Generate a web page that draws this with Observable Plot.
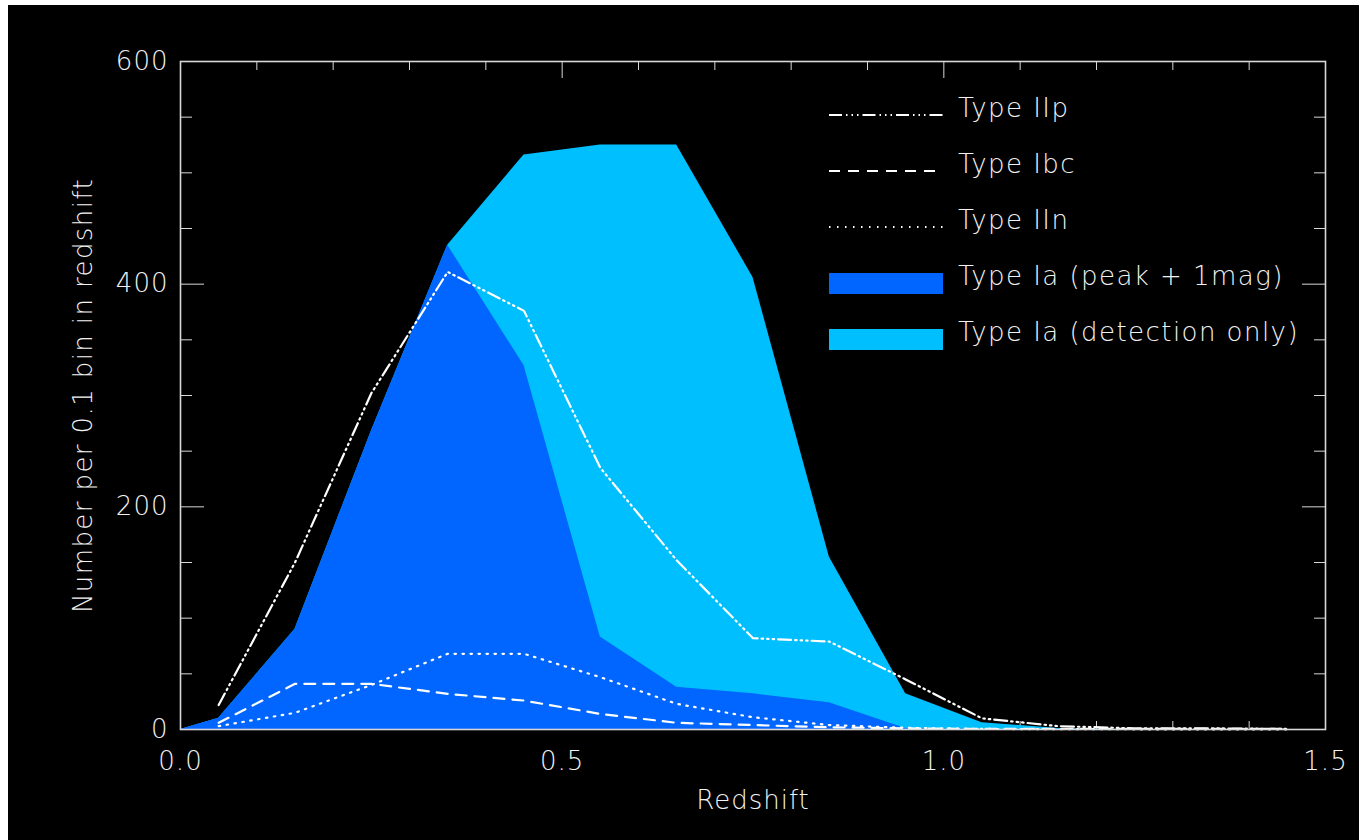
<!DOCTYPE html>
<html><head><meta charset="utf-8">
<script src="https://cdn.jsdelivr.net/npm/d3@7"></script>
<script src="https://cdn.jsdelivr.net/npm/@observablehq/plot@0.6"></script>
<style>
html,body{margin:0;padding:0;background:#fff;width:1359px;height:840px;overflow:hidden;}
#wrap{position:absolute;left:8px;top:5px;width:1351px;height:835px;background:#000;}
#legend{position:absolute;left:0;top:0;}
</style></head><body>
<div id="wrap"></div>
<script>
// Bin centres (redshift, 0.1-wide bins)
const redshift = [0.05,0.15,0.25,0.35,0.45,0.55,0.65,0.75,0.85,0.95,1.05,1.15,1.25,1.35,1.45];
// Type Ia (detection only)
const typeIaDetection = [10,90,268,435,516,525,525,406,155,32,6,1,0,0,0];
// Type Ia (peak + 1mag)
const typeIaPeak = [10,90,268,435,327,83,38,32,24,1,0,0,0,0,0];
// Type IIp
const typeIIp = [22,150,302,411,376,235,152,82,79,45,10,3,1,1,0.5];
// Type Ibc
const typeIbc = [6,41,41,32,26,14,6,4,2,1,0.5,0.5,0.5,0.5,0.5];
// Type IIn
const typeIIn = [3,15,40,68,68,47,23,11,4,1.5,0.5,0.3,0.2,0.2,0.2];
// Axis ranges and ticks
const xDomain = [0, 1.5];
const yDomain = [0, 600];
const xTickLabels = [0, 0.5, 1.0, 1.5];
const xMinorTicks = [0.1,0.2,0.3,0.4,0.6,0.7,0.8,0.9,1.1,1.2,1.3,1.4];
const yTickLabels = [0, 200, 400, 600];
const yMinorTicks = [50,100,150,250,300,350,450,500,550];
const xTitle = "Redshift";
const yTitle = "Number per 0.1 bin in redshift";
const legendNames = ["Type IIp","Type Ibc","Type IIn","Type Ia (peak + 1mag)","Type Ia (detection only)"];

const FG = "#d8d8d8";
const TXT = "#f2f2f2";
const DARK = "#0066ff", LIGHT = "#00bfff";
const DASH_IIP = "13,4,1.5,4,1.5,4,1.5,4";
const DASH_IBC = "11,8";
const DASH_IIN = "1.5,6.5";
const FONT = "'DejaVu Sans', sans-serif";

const rows = arr => redshift.map((z,i) => ({z, v: arr[i]}));
const areaRows = arr => [{z: xDomain[0], v: 0}, ...rows(arr), {z: xDomain[1], v: 0}];

const plot = Plot.plot({
  width: 1351, height: 835,
  marginLeft: 172, marginRight: 34, marginTop: 56, marginBottom: 111,
  x: {domain: xDomain},
  y: {domain: yDomain},
  style: {background: "black", color: FG, fontFamily: FONT, fontSize: "26px", fontWeight: "300", letterSpacing: "1px"},
  marks: [
    // bottom ticks (drawn under the fills)
    Plot.axisX({anchor: "bottom", ticks: xMinorTicks, tickSize: 8, dy: -8, stroke: FG, fill: "none", label: null}),
    Plot.axisX({anchor: "bottom", ticks: xTickLabels, tickSize: 16, dy: -16, stroke: FG, fill: "none", label: null}),
    Plot.areaY(areaRows(typeIaDetection), {x: "z", y: "v", fill: LIGHT}),
    Plot.areaY(areaRows(typeIaPeak), {x: "z", y: "v", fill: DARK}),
    Plot.line(rows(typeIIn), {x: "z", y: "v", stroke: "white", strokeWidth: 2.2, strokeDasharray: DASH_IIN}),
    Plot.line(rows(typeIbc), {x: "z", y: "v", stroke: "white", strokeWidth: 2.2, strokeDasharray: DASH_IBC}),
    Plot.line(rows(typeIIp), {x: "z", y: "v", stroke: "white", strokeWidth: 2.2, strokeDasharray: DASH_IIP}),
    // top ticks
    Plot.axisX({anchor: "top", ticks: xMinorTicks, tickSize: 8, dy: 8, stroke: FG, fill: "none", label: null}),
    Plot.axisX({anchor: "top", ticks: xTickLabels, tickSize: 16, dy: 16, stroke: FG, fill: "none", label: null}),
    // left/right ticks
    Plot.axisY({anchor: "left", ticks: yMinorTicks, tickSize: 12, dx: 12, stroke: FG, fill: "none", label: null}),
    Plot.axisY({anchor: "left", ticks: yTickLabels, tickSize: 24, dx: 24, stroke: FG, fill: "none", label: null}),
    Plot.axisY({anchor: "right", ticks: yMinorTicks, tickSize: 12, dx: -12, stroke: FG, fill: "none", label: null}),
    Plot.axisY({anchor: "right", ticks: yTickLabels, tickSize: 24, dx: -24, stroke: FG, fill: "none", label: null}),
    // tick labels
    Plot.axisX({anchor: "bottom", ticks: xTickLabels, tickSize: 0, tickPadding: 22, tickFormat: d3.format(".1f"), fill: TXT, label: null}),
    Plot.axisY({anchor: "left", ticks: yTickLabels, tickSize: 0, tickPadding: 12, tickFormat: d3.format("d"), fill: TXT, label: null}),
    Plot.frame({stroke: FG, strokeWidth: 1.6}),
    // axis titles
    Plot.text([xTitle], {text: d => d, frameAnchor: "bottom", dy: 71, textAnchor: "middle", lineAnchor: "middle", fill: TXT}),
    Plot.text([yTitle], {text: d => d, frameAnchor: "left", dx: -97, rotate: -90, textAnchor: "middle", lineAnchor: "middle", fill: TXT})
  ]
});
document.getElementById("wrap").appendChild(plot);
// widen the rotated y title slightly to match the reference's letter spacing
d3.select(plot).selectAll("text").filter(function() { return this.textContent === yTitle; })
  .style("letter-spacing", "1.4px");

// Legend (page coordinates overlay)
const legend = d3.select("body").append("svg").attr("id", "legend").attr("width", 1359).attr("height", 840)
  .style("font-family", FONT).style("font-size", "26px").style("font-weight", "300").style("letter-spacing", "1.45px");
const styles = [
  {type: "line", dash: DASH_IIP},
  {type: "line", dash: DASH_IBC},
  {type: "line", dash: DASH_IIN},
  {type: "box", fill: DARK},
  {type: "box", fill: LIGHT}
];
legendNames.forEach((name, i) => {
  const y = 115 + 56 * i;
  const s = styles[i];
  if (s.type === "line") {
    legend.append("line").attr("x1", 829).attr("x2", 943).attr("y1", y).attr("y2", y)
      .attr("stroke", "white").attr("stroke-width", 2.2).attr("stroke-dasharray", s.dash);
  } else {
    legend.append("rect").attr("x", 829).attr("y", y - 10).attr("width", 114).attr("height", 21).attr("fill", s.fill);
  }
  legend.append("text").attr("x", 958).attr("y", y + 2).attr("fill", TXT).text(name);
});
</script>
</body></html>
